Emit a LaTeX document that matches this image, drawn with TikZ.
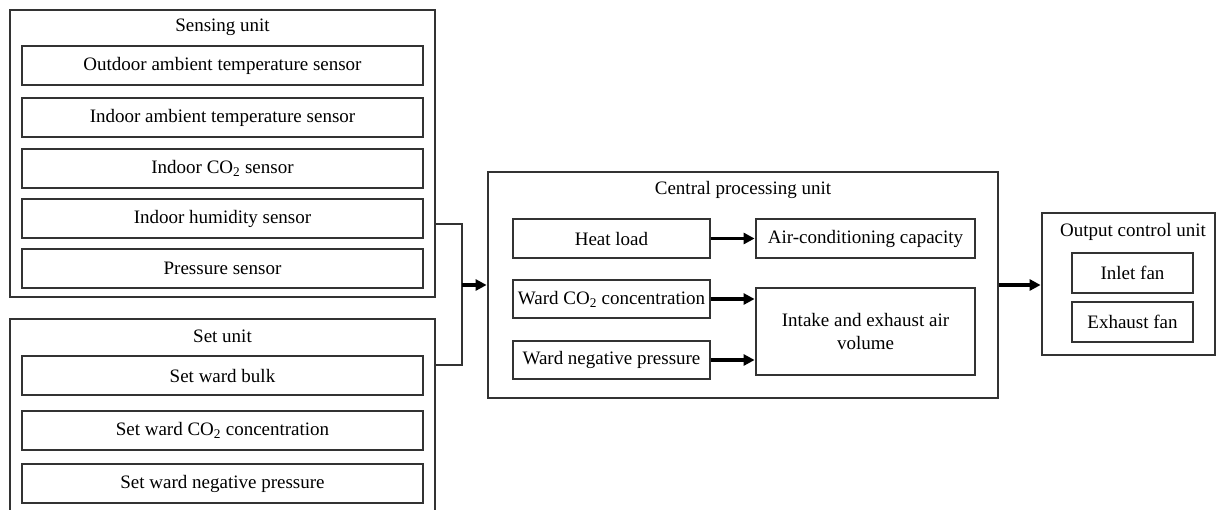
\documentclass[tikz,border=0pt]{standalone}
\usepackage{fontspec}
\setmainfont{Liberation Serif}
\usetikzlibrary{arrows.meta}
\definecolor{linec}{HTML}{333333}
\begin{document}
\begin{tikzpicture}[x=1pt,y=-1pt,
  box/.style={draw=linec, line width=1.4pt, inner sep=0pt, align=center},
  lbl/.style={inner sep=0pt},
  conn/.style={draw=linec, line width=1.4pt},
  thick arrow/.style={draw=black, line width=3.8pt, -{Triangle[length=11pt,width=11pt]}, shorten >=0.7pt},
  every node/.style={font=\fontsize{19}{22.5}\selectfont}
]
\useasboundingbox (0,0) rectangle (1216,509);
% Sensing unit
\node[box, minimum width=425, minimum height=287] (sense) at (222.5,153.5) {};
\node[lbl] (senset) at (222.5,27) {Sensing unit};
\node[box, minimum width=401, minimum height=39] (o1) at (222.5,65.5) {Outdoor ambient temperature sensor};
\node[box, minimum width=401, minimum height=39] (o2) at (222.5,117.5) {Indoor ambient temperature sensor};
\node[box, minimum width=401, minimum height=39] (o3) at (222.5,168.5) {Indoor CO\textsubscript{2} sensor};
\node[box, minimum width=401, minimum height=39] (o4) at (222.5,218.5) {Indoor humidity sensor};
\node[box, minimum width=401, minimum height=39] (o5) at (222.5,268.5) {Pressure sensor};
% Set unit
\node[box, minimum width=425, minimum height=201] (set) at (222.5,419.5) {};
\node[lbl] (sett) at (222.5,336) {Set unit};
\node[box, minimum width=401, minimum height=39] (s1) at (222.5,375.5) {Set ward bulk};
\node[box, minimum width=401, minimum height=39] (s2) at (222.5,430.5) {Set ward CO\textsubscript{2} concentration};
\node[box, minimum width=401, minimum height=39] (s3) at (222.5,483.5) {Set ward negative pressure};
% Central processing unit
\node[box, minimum width=510, minimum height=226] (cpu) at (743,285) {};
\node[lbl] (cput) at (743,190) {Central processing unit};
\node[box, minimum width=197, minimum height=39] (heat) at (611.5,238.5) {Heat load};
\node[box, minimum width=197, minimum height=38] (co2) at (611.5,299) {Ward CO\textsubscript{2} concentration};
\node[box, minimum width=197, minimum height=38] (neg) at (611.5,360) {Ward negative pressure};
\node[box, minimum width=219, minimum height=39] (ac) at (865.5,238.5) {Air-conditioning capacity};
\node[box, minimum width=219, minimum height=87] (intake) at (865.5,331.5) {Intake and exhaust air\\volume};
% Output control unit
\node[box, minimum width=173, minimum height=142] (out) at (1128.5,284) {};
\node[lbl] (outt) at (1133,232) {Output control unit};
\node[box, minimum width=121, minimum height=40] (inlet) at (1132.5,273) {Inlet fan};
\node[box, minimum width=121, minimum height=40] (exh) at (1132.5,322) {Exhaust fan};
% Connectors
\coordinate (j1) at (462,224);
\coordinate (j2) at (462,365);
\draw[conn] (sense.east |- j1) -- (j1) -- (j2) -- (set.east |- j2);
\draw[thick arrow] (cpu.west -| j1) -- (cpu.west);
\draw[thick arrow] (heat.east) -- (ac.west);
\draw[thick arrow] (co2.east) -- (co2.east -| intake.west);
\draw[thick arrow] (neg.east) -- (neg.east -| intake.west);
\draw[thick arrow] (cpu.east) -- (cpu.east -| out.west);
\end{tikzpicture}
\end{document}
